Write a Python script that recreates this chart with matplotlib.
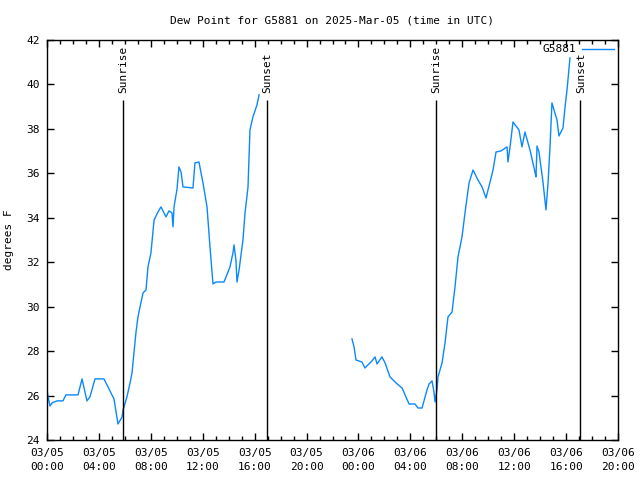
import matplotlib
matplotlib.use("Agg")
import matplotlib.pyplot as plt
from matplotlib.ticker import MultipleLocator, FixedLocator

# hours since 2025-03-05 00:00 UTC
t1 = [0.00, 0.08, 0.23, 0.39, 0.77, 1.23, 1.46, 2.39, 2.70, 3.08, 3.31, 3.70, 4.39,
      5.16, 5.47, 5.78, 5.86, 6.16, 6.40, 6.55, 6.70, 6.86, 7.01, 7.17, 7.40, 7.63,
      7.78, 8.01, 8.09, 8.25, 8.55, 8.78, 9.17, 9.40, 9.63, 9.71, 9.79, 10.02, 10.17,
      10.33, 10.48, 11.25, 11.40, 11.71, 11.87, 12.02, 12.33, 12.56, 12.79, 13.02,
      13.64, 14.10, 14.33, 14.41, 14.56, 14.64, 14.80, 15.10, 15.26, 15.49, 15.64,
      15.87, 16.18, 16.34]
v1 = [26.25, 25.94, 25.53, 25.67, 25.76, 25.76, 26.03, 26.03, 26.75, 25.76, 25.94,
      26.75, 26.75, 25.85, 24.72, 25.03, 25.35, 25.94, 26.57, 27.02, 27.92, 28.86,
      29.54, 29.99, 30.62, 30.75, 31.79, 32.42, 32.91, 33.90, 34.26, 34.49, 34.04,
      34.31, 34.22, 33.59, 34.49, 35.30, 36.29, 36.06, 35.39, 35.34, 36.47, 36.51,
      36.02, 35.57, 34.49, 32.69, 31.02, 31.11, 31.11, 31.79, 32.42, 32.78, 32.10,
      31.11, 31.65, 33.00, 34.22, 35.39, 37.95, 38.54, 39.08, 39.53]

t2 = [23.50, 23.66, 23.81, 24.27, 24.50, 25.04, 25.28, 25.43, 25.81, 26.05, 26.43,
      26.89, 27.36, 27.59, 27.90, 28.36, 28.59, 28.90, 29.28, 29.44, 29.67, 29.82,
      29.90, 30.05, 30.13, 30.44, 30.67, 30.90, 31.21, 31.44, 31.67, 31.98, 32.21,
      32.52, 32.83, 33.21, 33.52, 33.83, 34.14, 34.37, 34.60, 34.99, 35.45, 35.52,
      35.68, 35.91, 36.37, 36.60, 36.83, 37.22, 37.60, 37.68, 37.76, 37.91, 38.22,
      38.45, 38.61, 38.76, 38.91, 39.07, 39.30, 39.45, 39.76, 39.92, 40.07, 40.30]
v2 = [28.55, 28.19, 27.60, 27.51, 27.24, 27.56, 27.74, 27.42, 27.74, 27.47, 26.84,
      26.57, 26.34, 26.03, 25.62, 25.62, 25.44, 25.44, 26.25, 26.52, 26.66, 26.16,
      25.71, 26.25, 26.84, 27.47, 28.37, 29.54, 29.76, 30.89, 32.24, 33.14, 34.22,
      35.57, 36.15, 35.70, 35.39, 34.89, 35.61, 36.15, 36.96, 37.01, 37.19, 36.51,
      37.19, 38.31, 37.95, 37.19, 37.86, 37.05, 36.06, 35.84, 37.23, 36.96, 35.61,
      34.35, 35.57, 37.19, 39.17, 38.85, 38.40, 37.68, 38.04, 38.99, 39.75, 41.19]

sun_times = [5.86, 16.93, 29.97, 41.10]
sun_labels = ["Sunrise", "Sunset", "Sunrise", "Sunset"]

tick_hours = [0, 4, 8, 12, 16, 20, 24, 28, 32, 36, 40, 44]
tick_labels = ["03/05\n00:00", "03/05\n04:00", "03/05\n08:00", "03/05\n12:00",
               "03/05\n16:00", "03/05\n20:00", "03/06\n00:00", "03/06\n04:00",
               "03/06\n08:00", "03/06\n12:00", "03/06\n16:00", "03/06\n20:00"]

plt.rcParams['font.family'] = ['DejaVu Sans Mono']
plt.rcParams['font.size'] = 8

fig = plt.figure(figsize=(6.4, 4.8), dpi=100)
ax = fig.add_axes([47/640, 1-440/480, 571/640, 400/480])

color = '#0a88ff'
ax.plot(t1, v1, color=color, lw=1, label='G5881')
ax.plot(t2, v2, color=color, lw=1)

for t, lab in zip(sun_times, sun_labels):
    ax.vlines(t, 24, 39.3, color='black', lw=1)
    ax.text(t + 0.05, 39.6, lab, rotation=90, ha='center', va='bottom', fontsize=8)

ax.set_xlim(0, 44)
ax.set_ylim(24, 42)
ax.xaxis.set_major_locator(FixedLocator(tick_hours))
ax.set_xticklabels(tick_labels, linespacing=1.5)
ax.xaxis.set_minor_locator(MultipleLocator(1))
ax.yaxis.set_major_locator(MultipleLocator(2))
ax.tick_params(which='both', direction='in', top=True, right=True)
ax.tick_params(which='major', length=5, width=1)
ax.tick_params(which='minor', length=3, width=1)
ax.tick_params(axis='x', pad=6)
ax.tick_params(axis='y', pad=5)
for s in ax.spines.values():
    s.set_linewidth(1)

ax.set_ylabel('degrees F', labelpad=9)
ax.set_title('Dew Point for G5881 on 2025-Mar-05 (time in UTC)', fontsize=8, pad=12)

ax.legend(loc='upper right', frameon=False, markerfirst=False, handlelength=2.8,
          borderaxespad=0.0, fontsize=8, handletextpad=0.6)

fig.savefig('out.png', dpi=100)
